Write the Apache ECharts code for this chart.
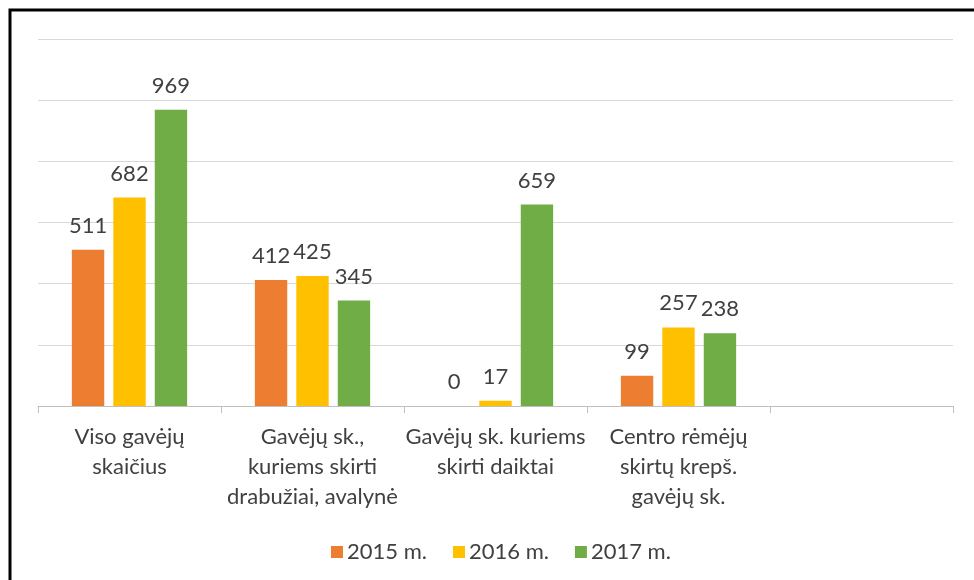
<!DOCTYPE html>
<html><head><meta charset="utf-8">
<script src="https://cdn.jsdelivr.net/npm/echarts@6/dist/echarts.min.js"></script>
<style>html,body{margin:0;padding:0;background:#fff}#c{width:974px;height:580px}</style>
</head><body><div id="c"></div>
<script>
const categories = ["Viso gavėjų\nskaičius", "Gavėjų sk.,\nkuriems skirti\ndrabužiai, avalynė", "Gavėjų sk. kuriems\nskirti daiktai", "Centro rėmėjų\nskirtų krepš.\ngavėjų sk.", ""];
const seriesNames = ["2015 m.", "2016 m.", "2017 m."];
const v2015 = [511, 412, 0, 99, null];
const v2016 = [682, 425, 17, 257, null];
const v2017 = [969, 345, 659, 238, null];
const colors = ["#ED7D31", "#FFC000", "#70AD47"];
const FONT = "Lato";
const textColor = "#404040";

const chart = echarts.init(document.getElementById('c'), null, {renderer: 'canvas'});
function mk(name, data, color) {
  return {
    name: name, type: 'bar', data: data,
    barGap: '28%', barCategoryGap: '37%',
    itemStyle: {color: color},
    label: {show: true, position: 'top', distance: 13, color: textColor, fontFamily: FONT, fontSize: 22},
    animation: false
  };
}
chart.setOption({
  animation: false,
  textStyle: {fontFamily: FONT},
  graphic: [{type: 'rect', shape: {x: 10, y: 10, width: 1100, height: 1100}, style: {fill: 'none', stroke: '#000', lineWidth: 3}, z: 100}],
  grid: {left: 38, right: 21, top: 39, bottom: 174, containLabel: false},
  legend: {
    left: 326, top: 536, icon: 'rect', itemWidth: 12, itemHeight: 12, itemGap: 26,
    textStyle: {color: textColor, fontFamily: FONT, fontSize: 22, padding: [0, 0, 0, -1]},
    data: seriesNames
  },
  xAxis: {
    type: 'category', data: categories,
    axisLine: {lineStyle: {color: '#BFBFBF', width: 1}},
    axisTick: {show: true, length: 7, lineStyle: {color: '#BFBFBF'}},
    axisLabel: {interval: 0, margin: 16, color: textColor, fontFamily: FONT, fontSize: 22, lineHeight: 30}
  },
  yAxis: {
    type: 'value', min: 0, max: 1200, interval: 200,
    axisLabel: {show: false}, axisLine: {show: false}, axisTick: {show: false},
    splitLine: {lineStyle: {color: '#D9D9D9', width: 1}}
  },
  series: [mk(seriesNames[0], v2015, colors[0]), mk(seriesNames[1], v2016, colors[1]), mk(seriesNames[2], v2017, colors[2])]
});
</script></body></html>
